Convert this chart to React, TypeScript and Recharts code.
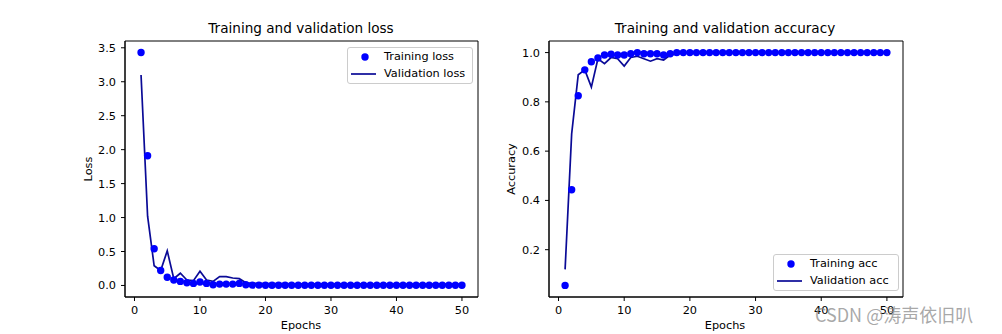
import { ComposedChart, Scatter, Line, XAxis, YAxis, ZAxis, Legend, ReferenceArea } from 'recharts';

// epochs 1..50
const epochs = [
  1, 2, 3, 4, 5, 6, 7, 8, 9, 10, 11, 12, 13, 14, 15, 16, 17, 18, 19, 20, 21, 22, 23, 24, 25,
  26, 27, 28, 29, 30, 31, 32, 33, 34, 35, 36, 37, 38, 39, 40, 41, 42, 43, 44, 45, 46, 47, 48, 49, 50,
];

const trainLoss = [
  3.43, 1.91, 0.54, 0.22, 0.12, 0.08, 0.06, 0.04, 0.03, 0.05, 0.03, 0.01, 0.02, 0.02, 0.02, 0.03, 0.01,
  0.005, 0.005, 0.004, 0.004, 0.004, 0.004, 0.004, 0.003, 0.003, 0.003, 0.003, 0.003, 0.003, 0.003,
  0.003, 0.003, 0.003, 0.003, 0.003, 0.003, 0.002, 0.002, 0.002, 0.002, 0.002, 0.002, 0.002, 0.002,
  0.002, 0.002, 0.002, 0.002, 0.002,
];

const valLoss = [
  3.1, 1.02, 0.29, 0.22, 0.51, 0.1, 0.18, 0.08, 0.07, 0.21, 0.08, 0.06, 0.13, 0.13, 0.11, 0.1, 0.04,
  0.03, 0.03, 0.028, 0.027, 0.026, 0.026, 0.025, 0.025, 0.024, 0.024, 0.024, 0.023, 0.023, 0.023,
  0.022, 0.022, 0.022, 0.022, 0.021, 0.021, 0.021, 0.021, 0.021, 0.02, 0.02, 0.02, 0.02, 0.02, 0.02,
  0.02, 0.02, 0.02, 0.02,
];

const trainAcc = [
  0.055, 0.443, 0.825, 0.93, 0.963, 0.978, 0.99, 0.993, 0.99, 0.99, 0.995, 1.0, 0.995, 0.995, 0.995,
  0.99, 0.995, 1.0, 1.0, 1.0, 1.0, 1.0, 1.0, 1.0, 1.0, 1.0, 1.0, 1.0, 1.0, 1.0, 1.0, 1.0, 1.0, 1.0,
  1.0, 1.0, 1.0, 1.0, 1.0, 1.0, 1.0, 1.0, 1.0, 1.0, 1.0, 1.0, 1.0, 1.0, 1.0, 1.0,
];

const valAcc = [
  0.12, 0.67, 0.91, 0.93, 0.86, 0.975, 0.955, 0.98, 0.975, 0.945, 0.98, 0.985, 0.975, 0.965, 0.975,
  0.97, 0.99, 0.995, 1.0, 1.0, 1.0, 1.0, 1.0, 1.0, 1.0, 1.0, 1.0, 1.0, 1.0, 1.0, 1.0, 1.0, 1.0, 1.0,
  1.0, 1.0, 1.0, 1.0, 1.0, 1.0, 1.0, 1.0, 1.0, 1.0, 1.0, 1.0, 1.0, 1.0, 1.0, 1.0,
];

const xTicks = [0, 10, 20, 30, 40, 50];
const lossTicks = [0, 0.5, 1.0, 1.5, 2.0, 2.5, 3.0, 3.5];
const accTicks = [0.2, 0.4, 0.6, 0.8, 1.0];

const lossRows = epochs.map((e, i) => ({ epoch: e, train: trainLoss[i], val: valLoss[i] }));
const accRows = epochs.map((e, i) => ({ epoch: e, train: trainAcc[i], val: valAcc[i] }));

const FONT = '"DejaVu Sans", Verdana, sans-serif';
const DOT = '#0000ff';
const LINE = '#0a0a96';
const X_DOMAIN: [number, number] = [-1.45, 52.45];
const tickStyle = { fill: '#000', fontSize: 11.3, fontFamily: FONT };
const axisLine = { stroke: '#000', strokeWidth: 1 };

function makeLegend(trainName: string, valName: string) {
  return () => (
    <div
      style={{
        width: 124,
        height: 35,
        border: '1px solid #cccccc',
        borderRadius: 3,
        background: 'rgba(255,255,255,0.8)',
        fontFamily: FONT,
        fontSize: 11.3,
        color: '#000',
        position: 'relative',
      }}
    >
      <svg width={40} height={35} style={{ position: 'absolute', left: 0, top: 0 }}>
        <circle cx={17} cy={9} r={3.7} fill={DOT} />
        <line x1={3} x2={28} y1={26} y2={26} stroke={LINE} strokeWidth={1.7} />
      </svg>
      <div style={{ position: 'absolute', left: 36, top: 1, lineHeight: '16px', whiteSpace: 'nowrap' }}>{trainName}</div>
      <div style={{ position: 'absolute', left: 36, top: 18, lineHeight: '16px', whiteSpace: 'nowrap' }}>{valName}</div>
    </div>
  );
}

function Panel(props: {
  rows: { epoch: number; train: number; val: number }[];
  yDomain: [number, number];
  yTicks: number[];
  yWidth: number;
  marginRight: number;
  legend: { left: number; top: number; train: string; val: string };
}) {
  const { rows, yDomain, yTicks, yWidth, marginRight, legend } = props;
  return (
    <ComposedChart width={501} height={334} data={rows} margin={{ top: 41, right: marginRight, bottom: 0, left: 0 }}>
      <XAxis
        dataKey="epoch"
        type="number"
        domain={X_DOMAIN}
        ticks={xTicks}
        allowDataOverflow
        height={37}
        tickSize={4}
        tickMargin={5}
        tick={tickStyle}
        axisLine={axisLine}
        tickLine={axisLine}
      />
      <YAxis
        type="number"
        domain={yDomain}
        ticks={yTicks}
        allowDataOverflow
        width={yWidth}
        tickSize={4}
        tickMargin={5}
        tick={tickStyle}
        tickFormatter={(v: number) => v.toFixed(1)}
        axisLine={axisLine}
        tickLine={axisLine}
      />
      <ZAxis range={[43, 43]} />
      {/* axes frame (top and right spines) */}
      <ReferenceArea
        x1={X_DOMAIN[0]}
        x2={X_DOMAIN[1]}
        y1={yDomain[0]}
        y2={yDomain[1]}
        fill="none"
        fillOpacity={0}
        stroke="#000"
        strokeWidth={1}
        ifOverflow="visible"
      />
      <Scatter dataKey="train" fill={DOT} shape="circle" isAnimationActive={false} />
      <Line dataKey="val" stroke={LINE} strokeWidth={1.7} dot={false} isAnimationActive={false} />
      <Legend
        layout="horizontal"
        verticalAlign="middle"
        align="center"
        content={makeLegend(legend.train, legend.val)}
        wrapperStyle={{ left: legend.left, top: legend.top, width: 126, height: 37 }}
      />
    </ComposedChart>
  );
}

const textBase: React.CSSProperties = {
  position: 'absolute',
  fontFamily: FONT,
  color: '#000',
  whiteSpace: 'nowrap',
  transform: 'translate(-50%, -50%)',
};

export default function App() {
  return (
    <div style={{ position: 'absolute', left: 0, top: 0, width: 1002, height: 334, background: '#fff', overflow: 'hidden' }}>
      <div style={{ position: 'absolute', left: 0, top: 0 }}>
        <Panel
          rows={lossRows}
          yDomain={[-0.17, 3.6]}
          yTicks={lossTicks}
          yWidth={125}
          marginRight={23}
          legend={{ left: 347, top: 47, train: 'Training loss', val: 'Validation loss' }}
        />
      </div>
      <div style={{ position: 'absolute', left: 501, top: 0 }}>
        <Panel
          rows={accRows}
          yDomain={[0.008, 1.047]}
          yTicks={accTicks}
          yWidth={48}
          marginRight={99}
          legend={{ left: 272, top: 254, train: 'Training acc', val: 'Validation acc' }}
        />
      </div>
      <div style={{ ...textBase, left: 301, top: 28, fontSize: 13.6 }}>Training and validation loss</div>
      <div style={{ ...textBase, left: 725, top: 28, fontSize: 13.6 }}>Training and validation accuracy</div>
      <div style={{ ...textBase, left: 301, top: 325, fontSize: 11.3 }}>Epochs</div>
      <div style={{ ...textBase, left: 725, top: 325, fontSize: 11.3 }}>Epochs</div>
      <div style={{ ...textBase, left: 88, top: 169, fontSize: 11.3, transform: 'translate(-50%, -50%) rotate(-90deg)' }}>Loss</div>
      <div style={{ ...textBase, left: 511, top: 169, fontSize: 11.3, transform: 'translate(-50%, -50%) rotate(-90deg)' }}>Accuracy</div>
      <div
        style={{
          position: 'absolute',
          left: 815,
          top: 301,
          fontSize: 18,
          fontFamily: '"Noto Sans CJK SC", "Noto Sans", sans-serif',
          color: 'rgba(140,140,140,0.75)',
          whiteSpace: 'nowrap',
        }}
      >
        CSDN @涛声依旧叭
      </div>
    </div>
  );
}
